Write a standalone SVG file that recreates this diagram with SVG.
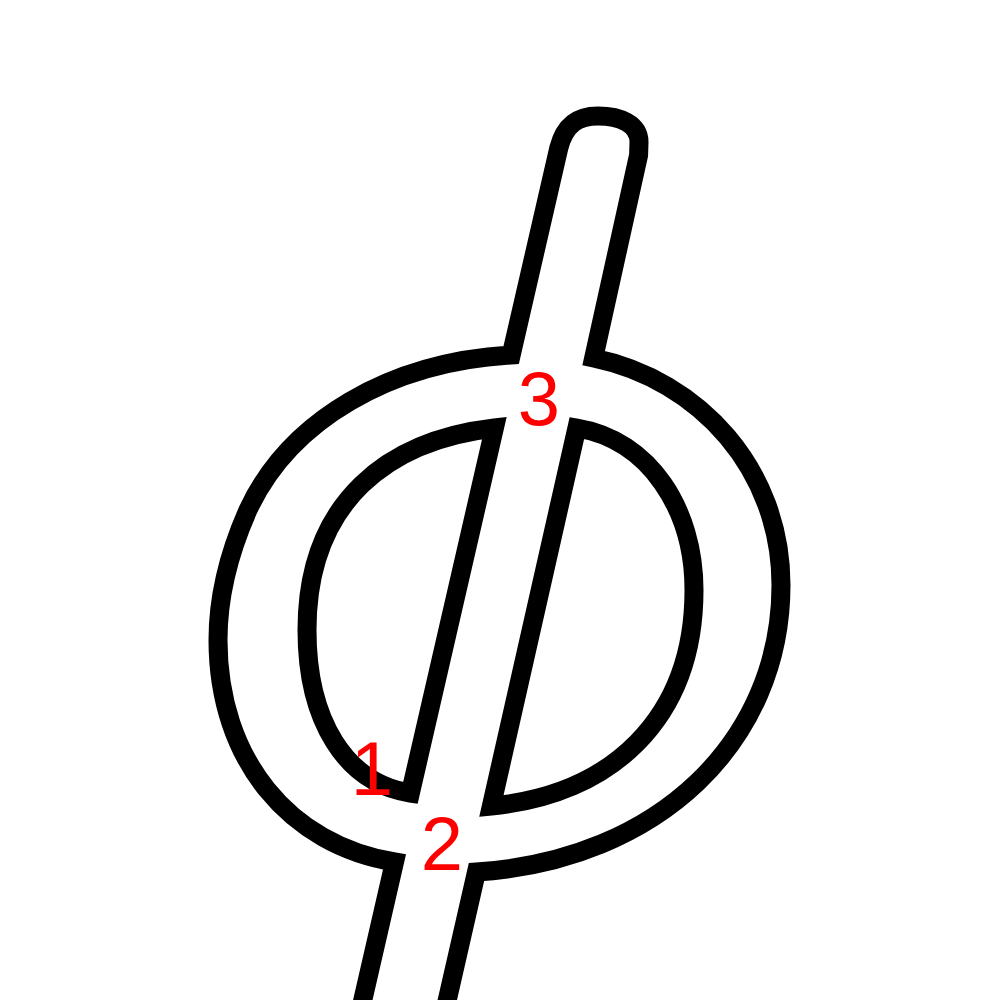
<svg xmlns="http://www.w3.org/2000/svg" width="1000" height="1000" viewBox="0 0 1000 1000">
<style>
.ol{fill:none;stroke:#000;stroke-width:19;stroke-linejoin:miter;stroke-miterlimit:10}
.lb{font-family:"Liberation Sans",Arial,sans-serif;font-size:76px;fill:#ff0000;text-anchor:middle}
</style>
<rect width="1000" height="1000" fill="#fff"/>
<g id="glyph">
<path class="ol" d="M 558.8,148 C 565,124 578,116 598,116 C 620,116 639,124 639,142 L 638.6,155 L 593.7,358 C 700,380 781,470 781,585 C 781,740 660,860 476.5,872 L 445,1010 L 360.5,1010 L 394.5,862 C 290,845 218,760 218,640 C 218,600 228,555 248,510 C 290,420 390,362 511.2,355 Z"/>
<path class="ol" d="M 494.4,428 C 390,440 307,500 307,630 C 307,720 345,783 410.4,793 Z"/>
<path class="ol" d="M 576.9,428 C 650,440 694,510 694,590 C 694,720 610,795 491.4,806 Z"/>
</g>
<g id="labels">
<text class="lb" x="372" y="795">1</text>
<text class="lb" x="442" y="870">2</text>
<text class="lb" x="539" y="425">3</text>
</g>
</svg>
